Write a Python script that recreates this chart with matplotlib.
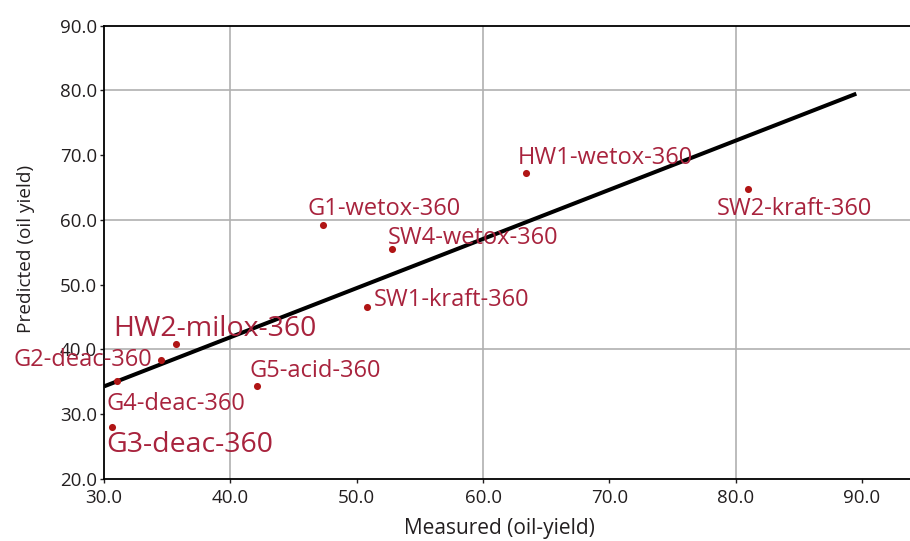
import matplotlib.pyplot as plt
import numpy as np

plt.rcParams['font.family'] = ['Open Sans', 'DejaVu Sans']

# measured vs predicted oil yield
names = ["G1-wetox-360", "HW1-wetox-360", "SW2-kraft-360", "SW4-wetox-360",
         "SW1-kraft-360", "HW2-milox-360", "G2-deac-360", "G5-acid-360",
         "G4-deac-360", "G3-deac-360"]
measured = [47.3, 63.4, 81.0, 52.8, 50.8, 35.7, 34.5, 42.1, 31.0, 30.6]
predicted = [59.3, 67.2, 64.8, 55.5, 46.5, 40.8, 38.3, 34.4, 35.1, 28.1]

# fitted line end points
fit_x = [30.0, 89.55]
fit_y = [34.3, 79.5]

# label placement (offset in points from the dot, alignment, font size)
label_offsets = [(-11, 7), (-6, 7), (-23, -19), (-3, 4), (5, 1),
                 (-45, 6), (-6, -4), (-5, 6), (-7, -21), (-4, -18)]
label_ha = ["left"] * 6 + ["right", "left", "left", "left"]
label_size = [17, 17, 17, 17, 17, 20.5, 17, 17, 17, 20.5]

fig = plt.figure(figsize=(9.1, 5.41), dpi=100)
ax = fig.add_axes([0.1143, 0.1146, 0.8857, 0.8379])

ax.plot(fit_x, fit_y, color="black", lw=2.9, solid_capstyle="butt", zorder=3)
ax.scatter(measured, predicted, s=26, color="#b01515", zorder=4, linewidths=0)

for i, name in enumerate(names):
    ax.annotate(name, (measured[i], predicted[i]), xytext=label_offsets[i],
                textcoords="offset points", ha=label_ha[i], va="baseline",
                fontsize=label_size[i], color="#a8233d", zorder=5)

ax.set_xlim(30, 93.8)
ax.set_ylim(20, 90)
ax.set_xticks(np.arange(30, 91, 10))
ax.set_yticks(np.arange(20, 91, 10))
ax.xaxis.set_major_formatter(plt.FormatStrFormatter("%.1f"))
ax.yaxis.set_major_formatter(plt.FormatStrFormatter("%.1f"))
ax.tick_params(labelsize=13.5, colors="#231f20", length=3, width=1)
ax.tick_params(axis="x", pad=4)
ax.tick_params(axis="y", pad=2)

for v in [40, 60, 80]:
    ax.axvline(v, color="#b0b0b0", lw=1.2, zorder=1)
    ax.axhline(v, color="#b0b0b0", lw=1.2, zorder=1)

for s in ["left", "bottom", "top"]:
    ax.spines[s].set_linewidth(1.3)
    ax.spines[s].set_color("black")
ax.spines["right"].set_visible(False)

ax.set_xlabel("Measured (oil-yield)", fontsize=15, color="#231f20")
ax.set_ylabel("Predicted (oil yield)", fontsize=13.7, color="#231f20")
ax.xaxis.set_label_coords(0.491, -0.086)
ax.yaxis.set_label_coords(-0.086, 0.507)

fig.savefig("out.png", dpi=100)
